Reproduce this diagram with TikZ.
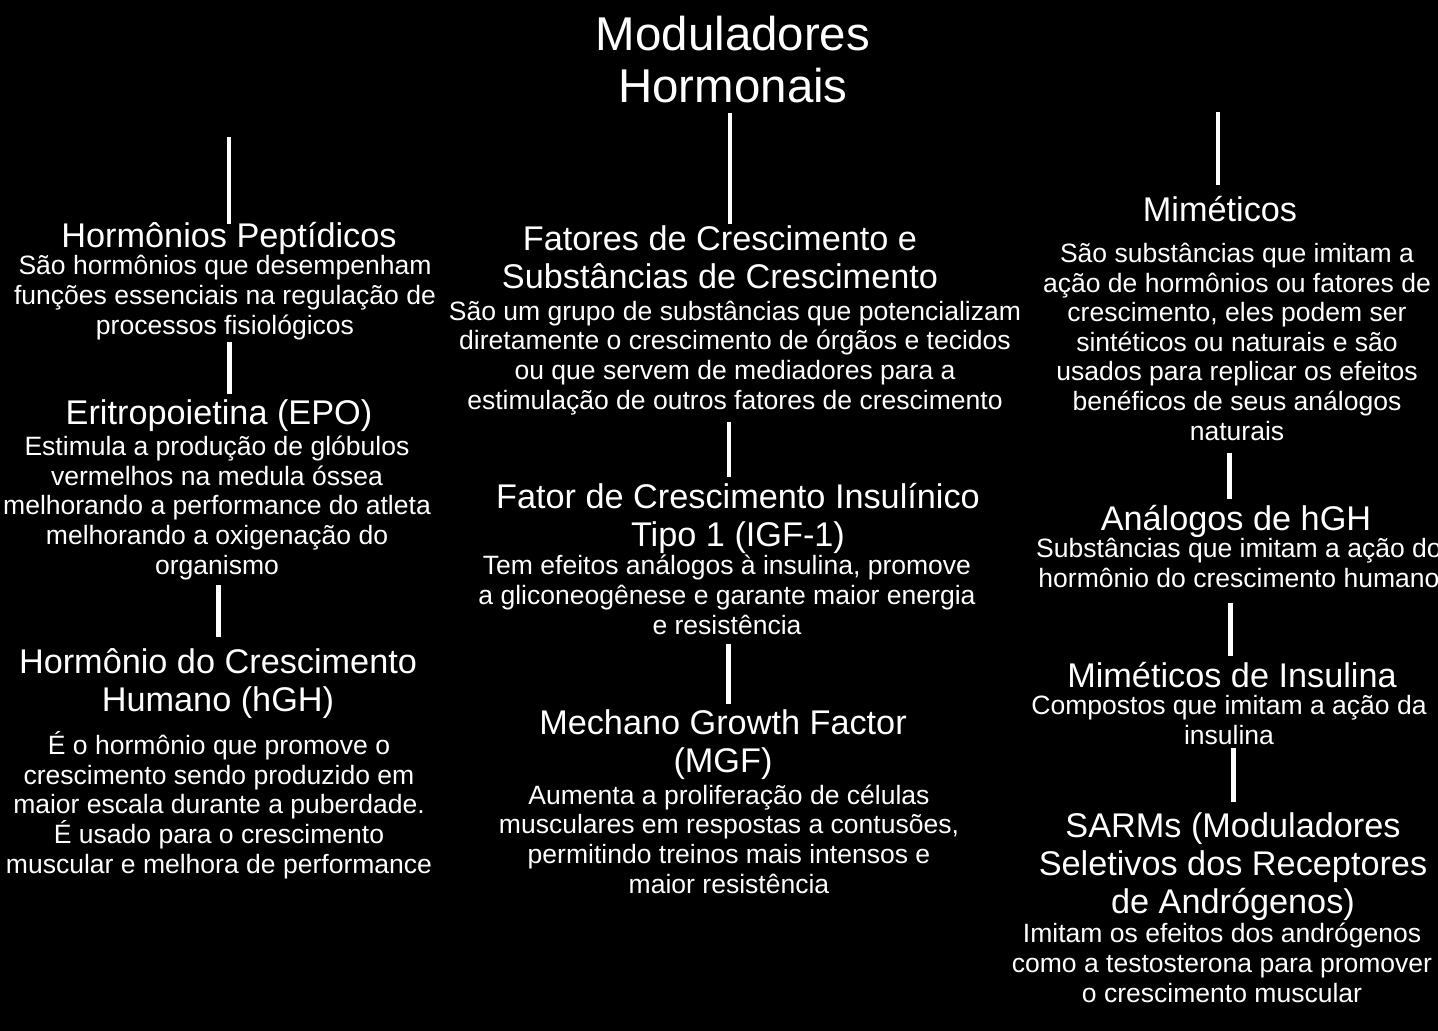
\documentclass[tikz,border=0pt]{standalone}
\usepackage{fontspec}
\setmainfont{Liberation Sans}
\begin{document}
\begin{tikzpicture}[x=0.02cm,y=-0.02cm,
    every node/.style={text=white,align=center,inner sep=0pt,anchor=base},
    maintitle/.style={font=\fontsize{27}{29.5}\selectfont},
    head/.style={font=\fontsize{19.5}{21.5}\selectfont},
    desc/.style={font=\fontsize{15.1}{16.8}\selectfont},
    vbar/.style={draw=white,line width=2.8pt,shorten <=3pt,shorten >=3pt}]

  \fill[black] (0,0) rectangle (1438,1031);
  \useasboundingbox (0,0) rectangle (1438,1031);

  \node[maintitle] (title) at (733,102) {Moduladores\\Hormonais};

  % left column
  \node[head] (pephead) at (229,247) {Hormônios Peptídicos};
  \node[desc] (pepdesc) at (225,334) {São hormônios que desempenham\\funções essenciais na regulação de\\processos fisiológicos};
  \node[head] (epohead) at (219,424) {Eritropoietina (EPO)};
  \node[desc] (epodesc) at (217,574) {Estimula a produção de glóbulos\\vermelhos na medula óssea\\melhorando a performance do atleta\\melhorando a oxigenação do\\organismo};
  \node[head] (hghhead) at (218,711) {Hormônio do Crescimento\\Humano (hGH)};
  \node[desc] (hghdesc) at (219,873) {É o hormônio que promove o\\crescimento sendo produzido em\\maior escala durante a puberdade.\\É usado para o crescimento\\muscular e melhora de performance};

  % middle column
  \node[head] (fathead) at (720,288) {Fatores de Crescimento e\\Substâncias de Crescimento};
  \node[desc] (fatdesc) at (735,409) {São um grupo de substâncias que potencializam\\diretamente o crescimento de órgãos e tecidos\\ou que servem de mediadores para a\\estimulação de outros fatores de crescimento};
  \node[head] (igfhead) at (738,546) {Fator de Crescimento Insulínico\\Tipo 1 (IGF-1)};
  \node[desc] (igfdesc) at (727,634) {Tem efeitos análogos à insulina, promove\\a gliconeogênese e garante maior energia\\e resistência};
  \node[head] (mgfhead) at (723,772) {Mechano Growth Factor\\(MGF)};
  \node[desc] (mgfdesc) at (729,893) {Aumenta a proliferação de células\\musculares em respostas a contusões,\\permitindo treinos mais intensos e\\maior resistência};

  % right column
  \node[head] (mimhead) at (1220,221) {Miméticos};
  \node[desc] (mimdesc) at (1237,440) {São substâncias que imitam a\\ação de hormônios ou fatores de\\crescimento, eles podem ser\\sintéticos ou naturais e são\\usados para replicar os efeitos\\benéficos de seus análogos\\naturais};
  \node[head] (anahead) at (1236,530) {Análogos de hGH};
  \node[desc] (anadesc) at (1239,587) {Substâncias que imitam a ação do\\hormônio do crescimento humano};
  \node[head] (inshead) at (1232,687) {Miméticos de Insulina};
  \node[desc] (insdesc) at (1229,744) {Compostos que imitam a ação da\\insulina};
  \node[head] (sarmhead) at (1233,913) {SARMs (Moduladores\\Seletivos dos Receptores\\de Andrógenos)};
  \node[desc] (sarmdesc) at (1222,1002) {Imitam os efeitos dos andrógenos\\como a testosterona para promover\\o crescimento muscular};

  \coordinate (lefttop) at (229,137);
  \coordinate (righttop) at (1218,112);

  \draw[vbar,shorten <=5.8pt,shorten >=0.7pt] ([xshift=-1.7pt]title.south) -- ([xshift=-1.7pt]title.south |- fathead.north);
  \draw[vbar,shorten <=0pt,shorten >=-1.5pt] (lefttop) -- (lefttop |- pephead.north);
  \draw[vbar,shorten <=0pt,shorten >=5.8pt] (righttop) -- (righttop |- mimhead.north);
  \draw[vbar,shorten <=1.3pt] ([xshift=2.3pt]pepdesc.south) -- ([xshift=2.3pt]pepdesc.south |- epohead.north);
  \draw[vbar,shorten >=6.4pt] ([xshift=1.1pt]epodesc.south) -- ([xshift=1.1pt]epodesc.south |- hghhead.north);
  \draw[vbar,shorten <=4.1pt] ([xshift=-3.4pt]fatdesc.south) -- ([xshift=-3.4pt]fatdesc.south |- igfhead.north);
  \draw[vbar,shorten <=5.3pt] ([xshift=0.6pt]igfdesc.south) -- ([xshift=0.6pt]igfdesc.south |- mgfhead.north);
  \draw[vbar,shorten <=7pt] ([xshift=-4.5pt]mimdesc.south) -- ([xshift=-4.5pt]mimdesc.south |- anahead.north);
  \draw[vbar,shorten <=8.7pt] ([xshift=-5.1pt]anadesc.south) -- ([xshift=-5.1pt]anadesc.south |- inshead.north);
  \draw[vbar,shorten <=1.9pt,shorten >=5.8pt] ([xshift=2.3pt]insdesc.south) -- ([xshift=2.3pt]insdesc.south |- sarmhead.north);

\end{tikzpicture}
\end{document}
